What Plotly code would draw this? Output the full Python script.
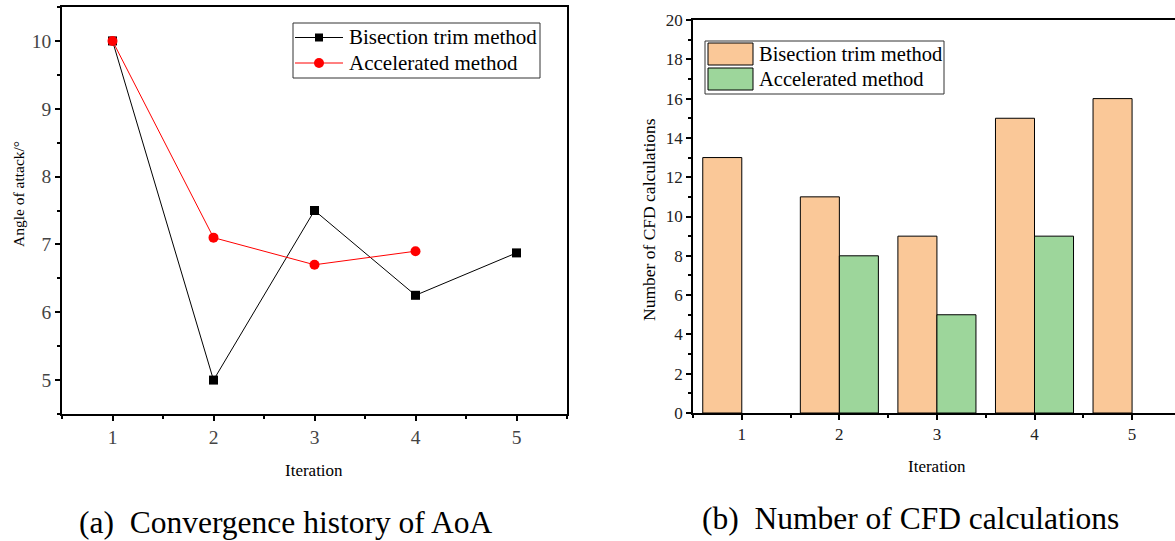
import plotly.graph_objects as go

# ---- data ----
iterations = [1, 2, 3, 4, 5]
aoa_bisection = [10, 5, 7.5, 6.25, 6.875]
aoa_accel_iter = [1, 2, 3, 4]
aoa_accel = [10, 7.1, 6.7, 6.9]

cfd_bisection = [13, 11, 9, 15, 16]
cfd_accel = [None, 8, 5, 9, None]

series_names = ["Bisection trim method", "Accelerated method"]
bar_colors = ["#FAC898", "#9DD69B"]
line_colors = ["black", "red"]
marker_symbols = ["square", "circle"]
captions = ["(a)\u00a0\u00a0Convergence history of AoA", "(b)\u00a0\u00a0Number of CFD calculations"]
x_title = "Iteration"
y_titles = ["Angle of attack/°", "Number of CFD calculations"]

W, H = 1175, 541
FONT = "Liberation Serif, Times New Roman, serif"

def px_x(p):
    return p / W

def px_y(p):
    return 1 - p / H

fig = go.Figure()

# left chart: lines with markers
fig.add_trace(go.Scatter(
    x=iterations, y=aoa_bisection, name=series_names[0], mode="lines+markers",
    line=dict(color=line_colors[0], width=1),
    marker=dict(symbol=marker_symbols[0], size=9, color=line_colors[0]),
    xaxis="x", yaxis="y", showlegend=False))
fig.add_trace(go.Scatter(
    x=aoa_accel_iter, y=aoa_accel, name=series_names[1], mode="lines+markers",
    line=dict(color=line_colors[1], width=1),
    marker=dict(symbol=marker_symbols[1], size=10, color=line_colors[1]),
    xaxis="x", yaxis="y", showlegend=False))

# right chart: grouped bars
fig.add_trace(go.Bar(
    x=iterations, y=cfd_bisection, name=series_names[0],
    marker=dict(color=bar_colors[0], line=dict(color="black", width=1)),
    xaxis="x2", yaxis="y2", showlegend=False))
fig.add_trace(go.Bar(
    x=iterations, y=cfd_accel, name=series_names[1],
    marker=dict(color=bar_colors[1], line=dict(color="black", width=1)),
    xaxis="x2", yaxis="y2", showlegend=False))

axis_common = dict(
    showline=True, linecolor="black", linewidth=1.5,
    ticks="outside", ticklen=5, tickwidth=1.5, tickcolor="black",
    showgrid=False, zeroline=False, automargin=False,
)
left_tickfont = dict(family=FONT, size=19.5, color="#444")
right_tickfont = dict(family=FONT, size=17, color="#222")

shapes = []
annotations = []

# ---- legend of the line chart (drawn in the original's compact style) ----
shapes.append(dict(type="rect", xref="paper", yref="paper",
                   x0=px_x(293), x1=px_x(540), y0=px_y(78), y1=px_y(23),
                   line=dict(color="#333", width=1), fillcolor="white", layer="above"))
line_rows = [37.5, 63]
for name, col, sym, cy in zip(series_names, line_colors, marker_symbols, line_rows):
    shapes.append(dict(type="line", xref="paper", yref="paper",
                       x0=px_x(295), x1=px_x(343), y0=px_y(cy), y1=px_y(cy),
                       line=dict(color=col, width=1), layer="above"))
    r = 4 if sym == "square" else 5
    shapes.append(dict(type="rect" if sym == "square" else "circle",
                       xref="paper", yref="paper",
                       x0=px_x(319 - r), x1=px_x(319 + r), y0=px_y(cy + r), y1=px_y(cy - r),
                       line=dict(color=col, width=0), fillcolor=col, layer="above"))
    annotations.append(dict(text=name, xref="paper", yref="paper",
                            x=px_x(347), y=px_y(cy), xanchor="left", yanchor="middle",
                            showarrow=False, font=dict(family=FONT, size=21, color="black")))

# ---- legend of the bar chart (large swatches like the original) ----
shapes.append(dict(type="rect", xref="paper", yref="paper",
                   x0=px_x(705), x1=px_x(944), y0=px_y(94), y1=px_y(41),
                   line=dict(color="#333", width=1), fillcolor="white", layer="above"))
row_tops = [43, 68]
for name, col, top in zip(series_names, bar_colors, row_tops):
    shapes.append(dict(type="rect", xref="paper", yref="paper",
                       x0=px_x(708), x1=px_x(753), y0=px_y(top + 22), y1=px_y(top),
                       line=dict(color="black", width=1), fillcolor=col, layer="above"))
    annotations.append(dict(text=name, xref="paper", yref="paper",
                            x=px_x(757), y=px_y(top + 11), xanchor="left", yanchor="middle",
                            showarrow=False, font=dict(family=FONT, size=20.5, color="black")))

# ---- axis titles ----
annotations.append(dict(text=x_title, xref="paper", yref="paper", x=px_x(314), y=px_y(470),
                        xanchor="center", yanchor="middle", showarrow=False,
                        font=dict(family=FONT, size=17, color="black")))
annotations.append(dict(text=x_title, xref="paper", yref="paper", x=px_x(937), y=px_y(466),
                        xanchor="center", yanchor="middle", showarrow=False,
                        font=dict(family=FONT, size=17, color="black")))
annotations.append(dict(text=y_titles[0], xref="paper", yref="paper", x=px_x(18), y=px_y(194),
                        xanchor="center", yanchor="middle", showarrow=False, textangle=-90,
                        font=dict(family=FONT, size=15.5, color="black")))
annotations.append(dict(text=y_titles[1], xref="paper", yref="paper", x=px_x(649), y=px_y(220),
                        xanchor="center", yanchor="middle", showarrow=False, textangle=-90,
                        font=dict(family=FONT, size=17.5, color="black")))

# ---- captions ----
annotations.append(dict(text=captions[0], xref="paper", yref="paper", x=px_x(285), y=px_y(522),
                        xanchor="center", yanchor="middle", showarrow=False,
                        font=dict(family=FONT, size=31.5, color="black")))
annotations.append(dict(text=captions[1], xref="paper", yref="paper", x=px_x(910), y=px_y(518),
                        xanchor="center", yanchor="middle", showarrow=False,
                        font=dict(family=FONT, size=31.5, color="black")))

fig.update_layout(
    width=W, height=H,
    margin=dict(l=0, r=0, t=0, b=0, pad=0, autoexpand=False),
    paper_bgcolor="white", plot_bgcolor="white",
    font=dict(family=FONT, color="black"),
    showlegend=False,
    barmode="group", bargap=0.2, bargroupgap=0,
    xaxis=dict(axis_common, mirror=True, domain=[px_x(62), px_x(567)], range=[0.5, 5.5],
               tickvals=iterations, anchor="y", tickfont=left_tickfont,
               minor=dict(dtick=0.5, tick0=0.5, ticks="outside", ticklen=3, tickcolor="black")),
    yaxis=dict(axis_common, mirror=True, domain=[px_y(414), px_y(7)], range=[4.5, 10.5],
               dtick=1, anchor="x", tickfont=left_tickfont,
               minor=dict(dtick=0.5, tick0=0.5, ticks="outside", ticklen=3, tickcolor="black")),
    xaxis2=dict(axis_common, mirror=True, domain=[px_x(693), 1.0], range=[0.5, 5.44],
                tickvals=iterations, anchor="y2", tickfont=right_tickfont,
                minor=dict(dtick=0.5, tick0=0.5, ticks="outside", ticklen=3, tickcolor="black")),
    yaxis2=dict(axis_common, mirror=False, domain=[px_y(413), px_y(20)], range=[0, 20],
                dtick=2, anchor="x2", tickfont=right_tickfont,
                minor=dict(dtick=1, ticks="outside", ticklen=3, tickcolor="black")),
    shapes=shapes,
    annotations=annotations,
)

post = """
var de=document.documentElement, b=document.body;
[de,b].forEach(function(e){e.style.margin='0';e.style.padding='0';e.style.overflow='hidden';});
"""

fig.write_html("out.html", config={"displayModeBar": False}, post_script=post)
